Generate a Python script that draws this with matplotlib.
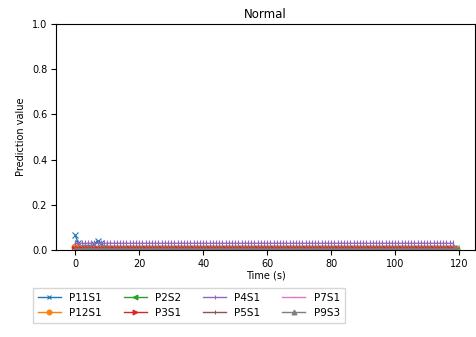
import matplotlib
matplotlib.use("Agg")
import matplotlib.pyplot as plt

# time axis, one sample per second
time_s = list(range(120))

labels = ["P11S1", "P12S1", "P2S2", "P3S1", "P4S1", "P5S1", "P7S1", "P9S3"]
markers = ["x", "o", "<", ">", "|", "|", "_", "^"]

p11s1 = [0.065, 0.030, 0.015, 0.012, 0.012, 0.015, 0.028, 0.042, 0.030, 0.012,
         0.008, 0.008, 0.008, 0.008, 0.008, 0.008, 0.008, 0.008, 0.008, 0.008,
         0.008, 0.008, 0.008, 0.008, 0.008, 0.008, 0.008, 0.008, 0.008, 0.008,
         0.008, 0.008, 0.008, 0.008, 0.008, 0.008, 0.008, 0.008, 0.008, 0.008,
         0.008, 0.008, 0.008, 0.008, 0.008, 0.008, 0.008, 0.008, 0.008, 0.008,
         0.008, 0.008, 0.008, 0.008, 0.008, 0.008, 0.008, 0.008, 0.008, 0.008,
         0.008, 0.008, 0.008, 0.008, 0.008, 0.008, 0.008, 0.008, 0.008, 0.008,
         0.008, 0.008, 0.008, 0.008, 0.008, 0.008, 0.008, 0.008, 0.008, 0.008,
         0.008, 0.008, 0.008, 0.008, 0.008, 0.008, 0.008, 0.008, 0.008, 0.008,
         0.008, 0.008, 0.008, 0.008, 0.008, 0.008, 0.008, 0.008, 0.008, 0.008,
         0.008, 0.008, 0.008, 0.008, 0.008, 0.008, 0.008, 0.008, 0.008, 0.008,
         0.008, 0.008, 0.008, 0.008, 0.008, 0.008, 0.008, 0.008, 0.008, 0.008]
p12s1 = [0.015, 0.008, 0.005, 0.004, 0.004, 0.004, 0.004, 0.004, 0.004, 0.004,
         0.004, 0.004, 0.004, 0.004, 0.004, 0.004, 0.004, 0.004, 0.004, 0.004,
         0.004, 0.004, 0.004, 0.004, 0.004, 0.004, 0.004, 0.004, 0.004, 0.004,
         0.004, 0.004, 0.004, 0.004, 0.004, 0.004, 0.004, 0.004, 0.004, 0.004,
         0.004, 0.004, 0.004, 0.004, 0.004, 0.004, 0.004, 0.004, 0.004, 0.004,
         0.004, 0.004, 0.004, 0.004, 0.004, 0.004, 0.004, 0.004, 0.004, 0.004,
         0.004, 0.004, 0.004, 0.004, 0.004, 0.004, 0.004, 0.004, 0.004, 0.004,
         0.004, 0.004, 0.004, 0.004, 0.004, 0.004, 0.004, 0.004, 0.004, 0.004,
         0.004, 0.004, 0.004, 0.004, 0.004, 0.004, 0.004, 0.004, 0.004, 0.004,
         0.004, 0.004, 0.004, 0.004, 0.004, 0.004, 0.004, 0.004, 0.004, 0.004,
         0.004, 0.004, 0.004, 0.004, 0.004, 0.004, 0.004, 0.004, 0.004, 0.004,
         0.004, 0.004, 0.004, 0.004, 0.004, 0.004, 0.004, 0.004, 0.004, 0.004]
p2s2 = [0.002, 0.002, 0.002, 0.002, 0.002, 0.002, 0.002, 0.002, 0.002, 0.002,
        0.002, 0.002, 0.002, 0.002, 0.002, 0.002, 0.002, 0.002, 0.002, 0.002,
        0.002, 0.002, 0.002, 0.002, 0.002, 0.002, 0.002, 0.002, 0.002, 0.002,
        0.002, 0.002, 0.002, 0.002, 0.002, 0.002, 0.002, 0.002, 0.002, 0.002,
        0.002, 0.002, 0.002, 0.002, 0.002, 0.002, 0.002, 0.002, 0.002, 0.002,
        0.002, 0.002, 0.002, 0.002, 0.002, 0.002, 0.002, 0.002, 0.002, 0.002,
        0.002, 0.002, 0.002, 0.002, 0.002, 0.002, 0.002, 0.002, 0.002, 0.002,
        0.002, 0.002, 0.002, 0.002, 0.002, 0.002, 0.002, 0.002, 0.002, 0.002,
        0.002, 0.002, 0.002, 0.002, 0.002, 0.002, 0.002, 0.002, 0.002, 0.002,
        0.002, 0.002, 0.002, 0.002, 0.002, 0.002, 0.002, 0.002, 0.002, 0.002,
        0.002, 0.002, 0.002, 0.002, 0.002, 0.002, 0.002, 0.002, 0.002, 0.002,
        0.002, 0.002, 0.002, 0.002, 0.002, 0.002, 0.002, 0.002, 0.002, 0.002]
p3s1 = [0.004, 0.004, 0.004, 0.004, 0.004, 0.004, 0.004, 0.004, 0.004, 0.004,
        0.004, 0.004, 0.004, 0.004, 0.004, 0.004, 0.004, 0.004, 0.004, 0.004,
        0.004, 0.004, 0.004, 0.004, 0.004, 0.004, 0.004, 0.004, 0.004, 0.004,
        0.004, 0.004, 0.004, 0.004, 0.004, 0.004, 0.004, 0.004, 0.004, 0.004,
        0.004, 0.004, 0.004, 0.004, 0.004, 0.004, 0.004, 0.004, 0.004, 0.004,
        0.004, 0.004, 0.004, 0.004, 0.004, 0.004, 0.004, 0.004, 0.004, 0.004,
        0.004, 0.004, 0.004, 0.004, 0.004, 0.004, 0.004, 0.004, 0.004, 0.004,
        0.004, 0.004, 0.004, 0.004, 0.004, 0.004, 0.004, 0.004, 0.004, 0.004,
        0.004, 0.004, 0.004, 0.004, 0.004, 0.004, 0.004, 0.004, 0.004, 0.004,
        0.004, 0.004, 0.004, 0.004, 0.004, 0.004, 0.004, 0.004, 0.004, 0.004,
        0.004, 0.004, 0.004, 0.004, 0.004, 0.004, 0.004, 0.004, 0.004, 0.004,
        0.004, 0.004, 0.004, 0.004, 0.004, 0.004, 0.004, 0.004, 0.004, 0.000]
p4s1 = [0.030, 0.030, 0.030, 0.030, 0.030, 0.030, 0.030, 0.030, 0.030, 0.030,
        0.030, 0.030, 0.030, 0.030, 0.030, 0.030, 0.030, 0.030, 0.030, 0.030,
        0.030, 0.030, 0.030, 0.030, 0.030, 0.030, 0.030, 0.030, 0.030, 0.030,
        0.030, 0.030, 0.030, 0.030, 0.030, 0.030, 0.030, 0.030, 0.030, 0.030,
        0.030, 0.030, 0.030, 0.030, 0.030, 0.030, 0.030, 0.030, 0.030, 0.030,
        0.030, 0.030, 0.030, 0.030, 0.030, 0.030, 0.030, 0.030, 0.030, 0.030,
        0.030, 0.030, 0.030, 0.030, 0.030, 0.030, 0.030, 0.030, 0.030, 0.030,
        0.030, 0.030, 0.030, 0.030, 0.030, 0.030, 0.030, 0.030, 0.030, 0.030,
        0.030, 0.030, 0.030, 0.030, 0.030, 0.030, 0.030, 0.030, 0.030, 0.030,
        0.030, 0.030, 0.030, 0.030, 0.030, 0.030, 0.030, 0.030, 0.030, 0.030,
        0.030, 0.030, 0.030, 0.030, 0.030, 0.030, 0.030, 0.030, 0.030, 0.030,
        0.030, 0.030, 0.030, 0.030, 0.030, 0.030, 0.030, 0.030, 0.030, 0.005]
p5s1 = [0.006, 0.006, 0.006, 0.006, 0.006, 0.006, 0.006, 0.006, 0.006, 0.006,
        0.006, 0.006, 0.006, 0.006, 0.006, 0.006, 0.006, 0.006, 0.006, 0.006,
        0.006, 0.006, 0.006, 0.006, 0.006, 0.006, 0.006, 0.006, 0.006, 0.006,
        0.006, 0.006, 0.006, 0.006, 0.006, 0.006, 0.006, 0.006, 0.006, 0.006,
        0.006, 0.006, 0.006, 0.006, 0.006, 0.006, 0.006, 0.006, 0.006, 0.006,
        0.006, 0.006, 0.006, 0.006, 0.006, 0.006, 0.006, 0.006, 0.006, 0.006,
        0.006, 0.006, 0.006, 0.006, 0.006, 0.006, 0.006, 0.006, 0.006, 0.006,
        0.006, 0.006, 0.006, 0.006, 0.006, 0.006, 0.006, 0.006, 0.006, 0.006,
        0.006, 0.006, 0.006, 0.006, 0.006, 0.006, 0.006, 0.006, 0.006, 0.006,
        0.006, 0.006, 0.006, 0.006, 0.006, 0.006, 0.006, 0.006, 0.006, 0.006,
        0.006, 0.006, 0.006, 0.006, 0.006, 0.006, 0.006, 0.006, 0.006, 0.006,
        0.006, 0.006, 0.006, 0.006, 0.006, 0.006, 0.006, 0.006, 0.006, 0.006]
p7s1 = [0.003, 0.003, 0.003, 0.003, 0.003, 0.003, 0.003, 0.003, 0.003, 0.003,
        0.003, 0.003, 0.003, 0.003, 0.003, 0.003, 0.003, 0.003, 0.003, 0.003,
        0.003, 0.003, 0.003, 0.003, 0.003, 0.003, 0.003, 0.003, 0.003, 0.003,
        0.003, 0.003, 0.003, 0.003, 0.003, 0.003, 0.003, 0.003, 0.003, 0.003,
        0.003, 0.003, 0.003, 0.003, 0.003, 0.003, 0.003, 0.003, 0.003, 0.003,
        0.003, 0.003, 0.003, 0.003, 0.003, 0.003, 0.003, 0.003, 0.003, 0.003,
        0.003, 0.003, 0.003, 0.003, 0.003, 0.003, 0.003, 0.003, 0.003, 0.003,
        0.003, 0.003, 0.003, 0.003, 0.003, 0.003, 0.003, 0.003, 0.003, 0.003,
        0.003, 0.003, 0.003, 0.003, 0.003, 0.003, 0.003, 0.003, 0.003, 0.003,
        0.003, 0.003, 0.003, 0.003, 0.003, 0.003, 0.003, 0.003, 0.003, 0.003,
        0.003, 0.003, 0.003, 0.003, 0.003, 0.003, 0.003, 0.003, 0.003, 0.003,
        0.003, 0.003, 0.003, 0.003, 0.003, 0.003, 0.003, 0.003, 0.003, 0.003]
p9s3 = [0.002, 0.002, 0.002, 0.002, 0.002, 0.002, 0.002, 0.002, 0.002, 0.002,
        0.002, 0.002, 0.002, 0.002, 0.002, 0.002, 0.002, 0.002, 0.002, 0.002,
        0.002, 0.002, 0.002, 0.002, 0.002, 0.002, 0.002, 0.002, 0.002, 0.002,
        0.002, 0.002, 0.002, 0.002, 0.002, 0.002, 0.002, 0.002, 0.002, 0.002,
        0.002, 0.002, 0.002, 0.002, 0.002, 0.002, 0.002, 0.002, 0.002, 0.002,
        0.002, 0.002, 0.002, 0.002, 0.002, 0.002, 0.002, 0.002, 0.002, 0.002,
        0.002, 0.002, 0.002, 0.002, 0.002, 0.002, 0.002, 0.002, 0.002, 0.002,
        0.002, 0.002, 0.002, 0.002, 0.002, 0.002, 0.002, 0.002, 0.002, 0.002,
        0.002, 0.002, 0.002, 0.002, 0.002, 0.002, 0.002, 0.002, 0.002, 0.002,
        0.002, 0.002, 0.002, 0.002, 0.002, 0.002, 0.002, 0.002, 0.002, 0.002,
        0.002, 0.002, 0.002, 0.002, 0.002, 0.002, 0.002, 0.002, 0.002, 0.002,
        0.002, 0.002, 0.002, 0.002, 0.002, 0.002, 0.002, 0.002, 0.002, 0.002]

series = [p11s1, p12s1, p2s2, p3s1, p4s1, p5s1, p7s1, p9s3]

fig = plt.figure(figsize=(4.76, 3.37), dpi=100)
ax = fig.add_axes([0.118, 0.258, 0.88, 0.671])

for vals, lab, mk in zip(series, labels, markers):
    ax.plot(time_s, vals, marker=mk, label=lab, linewidth=1.0, markersize=5,
            markeredgewidth=0.8)

ax.set_ylim(0, 1.0)
ax.set_title("Normal", fontsize=8.5, pad=4)
ax.set_xlabel("Time (s)", fontsize=7, labelpad=1)
ax.set_ylabel("Prediction value", fontsize=7, labelpad=4)
ax.tick_params(labelsize=7, length=3.5, pad=3)

fig.legend(loc="upper left", bbox_to_anchor=(0.058, 0.162), ncol=4,
           fontsize=7.5, frameon=True, handlelength=2.2, columnspacing=2.1,
           labelspacing=0.45, borderpad=0.5, markerscale=0.7, fancybox=False,
           edgecolor="#cccccc")

fig.savefig("out.png", dpi=100)
